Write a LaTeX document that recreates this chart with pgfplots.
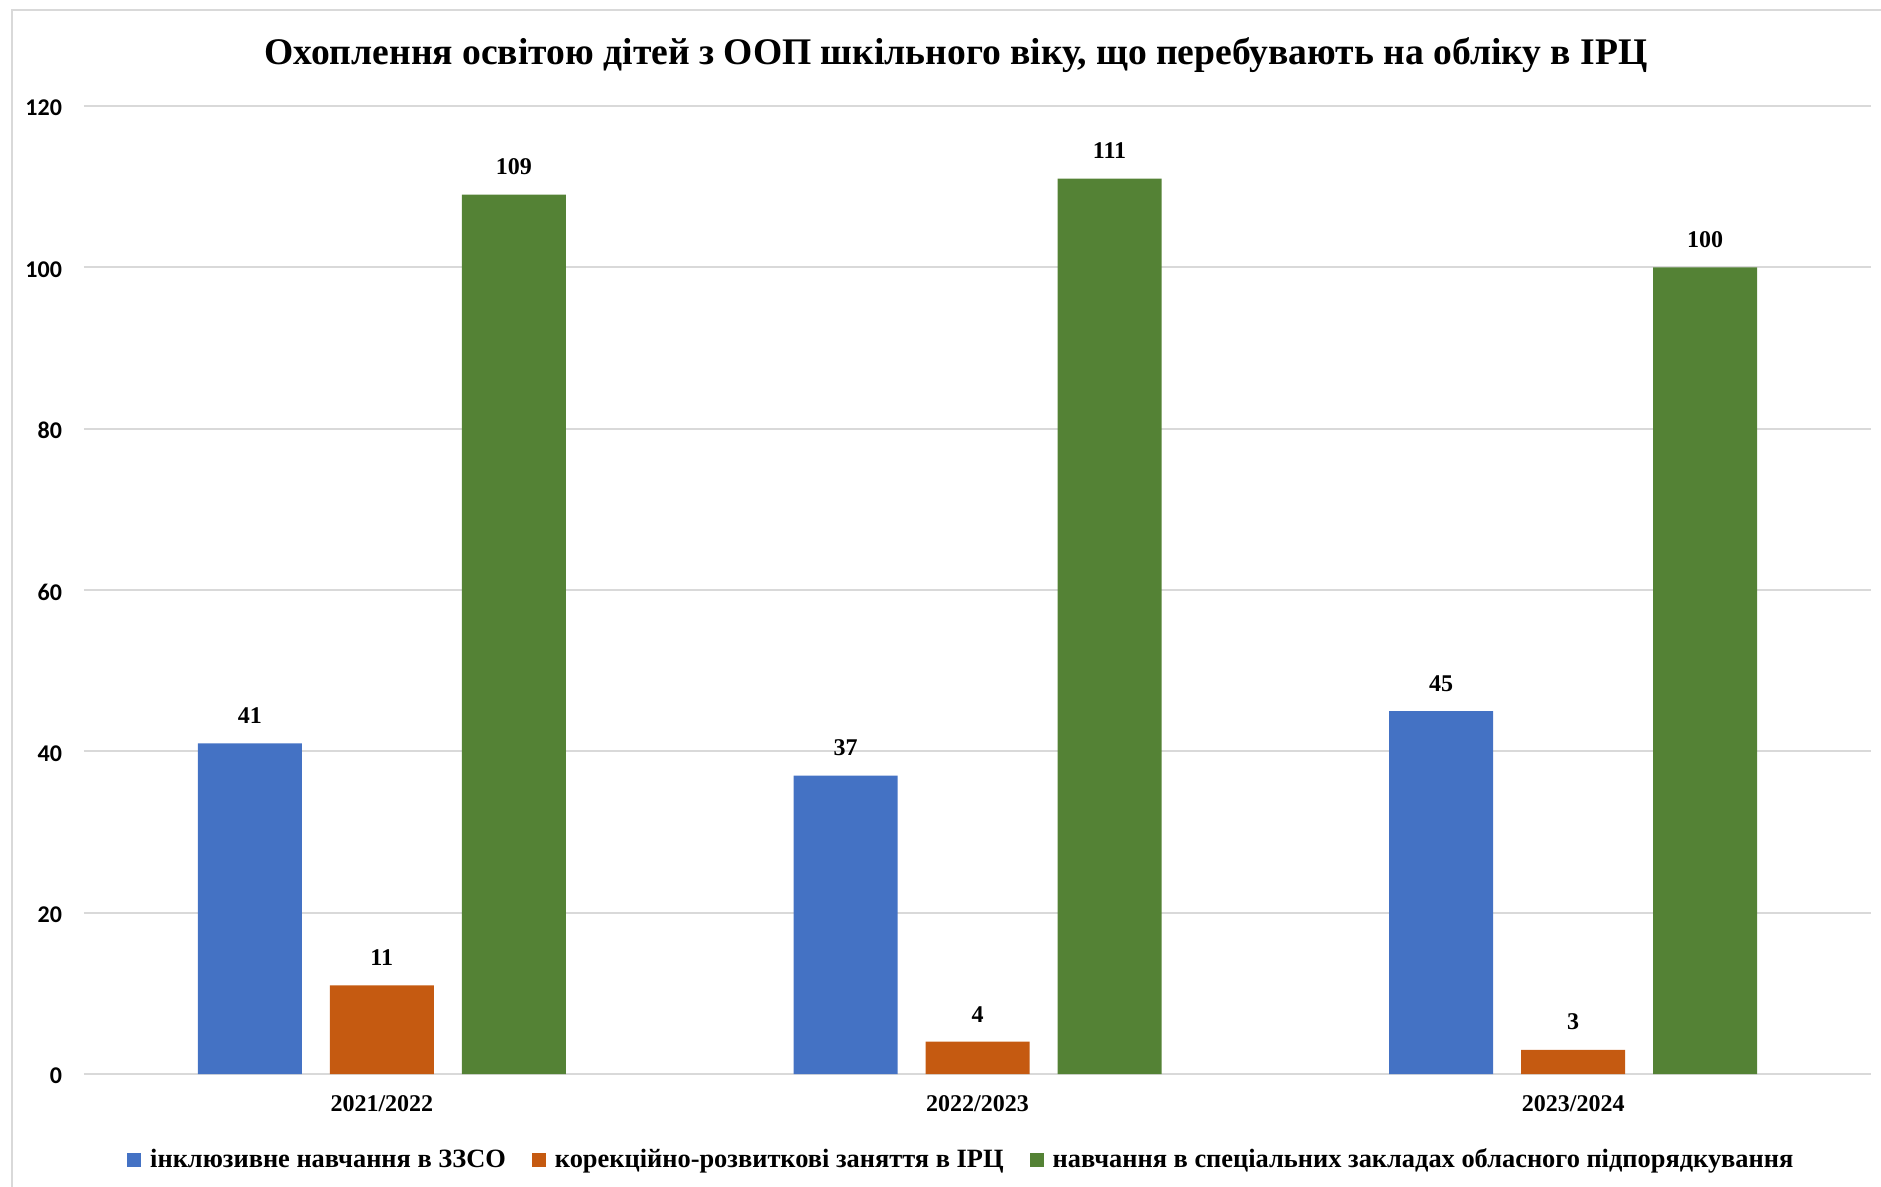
\documentclass[border=0pt]{standalone}
\usepackage{fontspec}
\setmainfont{Liberation Serif}
\newfontfamily\carlito{Carlito}
\usepackage{pgfplots}
\pgfplotsset{compat=1.18}
\definecolor{cblue}{HTML}{4472C4}
\definecolor{corange}{HTML}{C55A11}
\definecolor{cgreen}{HTML}{548235}
\definecolor{cgrid}{HTML}{D9D9D9}
\begin{document}
\begin{tikzpicture}
\path[use as bounding box] (0pt,0pt) rectangle (940.5pt,-593.5pt);
\draw[cgrid, line width=1pt] (6pt,-594pt) -- (6pt,-5pt) -- (941pt,-5pt);
\node[font=\bfseries\fontsize{18.8}{22}\selectfont] at (478pt,-27.5pt) {Охоплення освітою дітей з ООП шкільного віку, що перебувають на обліку в ІРЦ};
\begin{axis}[
  at={(42pt,-537pt)}, anchor=south west,
  scale only axis, width=893.5pt, height=484pt,
  ybar=14pt, bar width=52pt,
  xmin=-0.5, xmax=2.5, ymin=0, ymax=120,
  xtick={0,1,2}, xticklabels={2021/2022,2022/2023,2023/2024},
  ytick={0,20,...,120},
  ymajorgrids, major grid style={cgrid, line width=1pt},
  axis line style={draw=none},
  tick style={draw=none},
  /pgf/number format/assume math mode=true,
  yticklabel style={font=\carlito\bfseries\fontsize{12}{14}\selectfont, xshift=-7.5pt, yshift=-1pt},
  xticklabel style={font=\bfseries\fontsize{12}{14}\selectfont, yshift=-3pt},
  nodes near coords,
  every node near coord/.append style={font=\bfseries\fontsize{12}{14}\selectfont, text=black, yshift=6.3pt},
  legend columns=3,
  legend style={draw=none, fill=none, at={(0.4915,-0.0888)}, anchor=center,
    font=\bfseries\fontsize{13.2}{15}\selectfont,
    /tikz/every even column/.append style={column sep=11pt}},
  legend cell align=left,
]
\addplot[fill=cblue, draw=none, legend image code/.code={\fill[cblue] (0pt,-3.5pt) rectangle (7pt,3.5pt); \path (9.5pt,0pt);}] coordinates {(0,41) (1,37) (2,45)};
\addplot[fill=corange, draw=none, legend image code/.code={\fill[corange] (0pt,-3.5pt) rectangle (7pt,3.5pt); \path (9.5pt,0pt);}] coordinates {(0,11) (1,4) (2,3)};
\addplot[fill=cgreen, draw=none, legend image code/.code={\fill[cgreen] (0pt,-3.5pt) rectangle (7pt,3.5pt); \path (9.5pt,0pt);}] coordinates {(0,109) (1,111) (2,100)};
\legend{інклюзивне навчання в ЗЗСО, корекційно-розвиткові заняття в ІРЦ, навчання в спеціальних закладах обласного підпорядкування}
\end{axis}
\end{tikzpicture}
\end{document}
